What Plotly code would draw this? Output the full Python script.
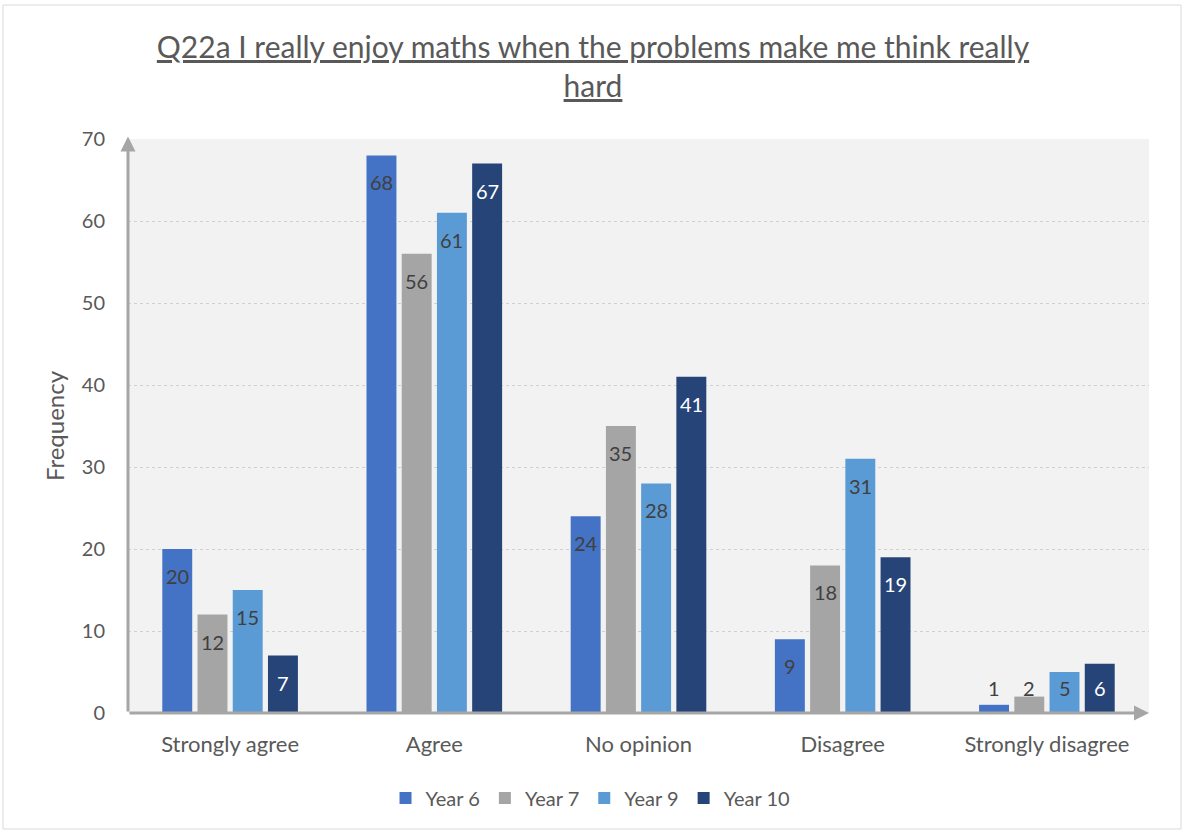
import plotly.graph_objects as go

categories = ["Strongly agree", "Agree", "No opinion", "Disagree", "Strongly disagree"]
series_names = ["Year 6", "Year 7", "Year 9", "Year 10"]
year6 = [20, 68, 24, 9, 1]
year7 = [12, 56, 35, 18, 2]
year9 = [15, 61, 28, 31, 5]
year10 = [7, 67, 41, 19, 6]
y_ticks = [0, 10, 20, 30, 40, 50, 60, 70]

series_values = [year6, year7, year9, year10]
colors = ["#4472C4", "#A5A5A5", "#5B9BD5", "#264478"]
label_colors = ["#404040", "#404040", "#404040", "#FFFFFF"]

FONT = "Lato, 'Open Sans', sans-serif"
GREY_TEXT = "#595959"
BARGAP = 0.31
BARGROUPGAP = 0.15

W, H = 1186, 832
M_L, M_R, M_T, M_B = 128, 37, 139, 119
plot_h = H - M_T - M_B
y_max = 70
px_per_unit = plot_h / y_max

fig = go.Figure()
for name, vals, col in zip(series_names, series_values, colors):
    fig.add_trace(go.Bar(
        name=name, x=categories, y=vals, marker=dict(color=col, line=dict(width=0)),
    ))

# value labels: inside near the bar top, or sitting just above the base for short bars
slot = (1 - BARGAP) / len(series_names)
annotations = []
for k, (vals, tcol) in enumerate(zip(series_values, label_colors)):
    for i, v in enumerate(vals):
        xpos = i + (k - (len(series_names) - 1) / 2) * slot
        if v * px_per_unit < 52:
            ypos, shift = 0, 25
        else:
            ypos, shift = v, -27
        annotations.append(dict(
            x=xpos, y=ypos, xref="x", yref="y", text=str(v), showarrow=False,
            yshift=shift, font=dict(family=FONT, size=20, color=tcol),
        ))

# axis lines with arrowheads
axis_col = "#A6A6A6"
annotations.append(dict(x=4.5, y=0, ax=-0.5, ay=0, xref="x", yref="y", axref="x", ayref="y",
                        text="", showarrow=True, arrowhead=2, arrowsize=1, arrowwidth=3,
                        arrowcolor=axis_col, standoff=0, startstandoff=0))
annotations.append(dict(x=-0.5, y=70.3, ax=-0.5, ay=0, xref="x", yref="y", axref="x", ayref="y",
                        text="", showarrow=True, arrowhead=2, arrowsize=1, arrowwidth=3,
                        arrowcolor=axis_col, standoff=0, startstandoff=0))

fig.update_layout(
    width=W, height=H,
    margin=dict(l=M_L, r=M_R, t=M_T, b=M_B),
    paper_bgcolor="white",
    plot_bgcolor="#F2F2F2",
    barmode="group", bargap=BARGAP, bargroupgap=BARGROUPGAP,
    font=dict(family=FONT, color=GREY_TEXT),
    title=dict(
        text="<u>Q22a I really enjoy maths when the problems make me think really</u><br><u>hard</u>",
        x=0.5, xanchor="center", xref="container", y=1 - 58 / H, yanchor="middle", yref="container",
        font=dict(family=FONT, size=30, color=GREY_TEXT),
    ),
    xaxis=dict(
        range=[-0.5, 4.5], showgrid=False, showline=False, zeroline=False,
        tickfont=dict(family=FONT, size=22, color=GREY_TEXT), ticks="",
        ticklabelstandoff=16,
    ),
    yaxis=dict(
        range=[0, y_max], tickvals=y_ticks, showline=False, zeroline=False,
        showgrid=True, gridcolor="#D0D0D0", griddash="dot", gridwidth=1,
        tickfont=dict(family=FONT, size=20, color=GREY_TEXT), ticks="",
        ticklabelstandoff=22,
        title=dict(text="Frequency", font=dict(family=FONT, size=24, color=GREY_TEXT), standoff=10),
    ),
    legend=dict(
        orientation="h", x=0.453, xanchor="center", y=-0.148, yanchor="middle",
        font=dict(family=FONT, size=20, color=GREY_TEXT), itemwidth=30,
        traceorder="normal",
    ),
    annotations=annotations,
    shapes=[dict(
        type="rect", xref="paper", yref="paper",
        x0=(3 - M_L) / (W - M_L - M_R), x1=(1181 - M_L) / (W - M_L - M_R),
        y0=(H - M_B - 829) / plot_h, y1=(H - M_B - 5) / plot_h,
        line=dict(color="#D9D9D9", width=1), fillcolor="rgba(0,0,0,0)", layer="below",
    )],
)

fig.write_html("out.html")
